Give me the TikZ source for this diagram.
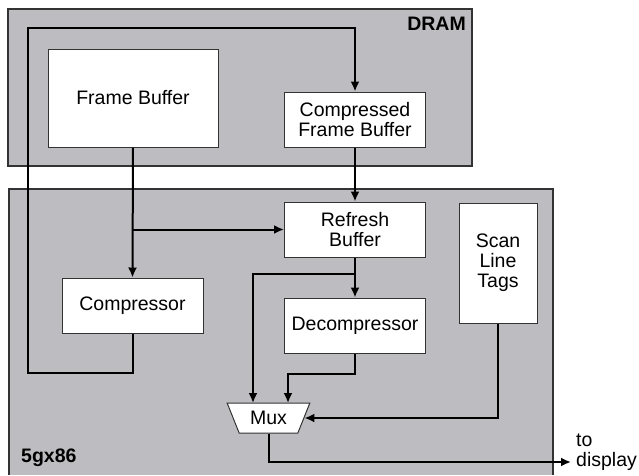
\documentclass[tikz,border=0pt]{standalone}
\usepackage{fontspec}
\setmainfont{Liberation Sans}
\usetikzlibrary{arrows.meta,shapes.geometric}
\definecolor{chipgray}{RGB}{189,189,193}

\begin{document}
\begin{tikzpicture}[x=1pt, y=-1pt,
  font=\fontsize{19.5}{20}\selectfont,
  region/.style={draw=black!80, line width=1.2pt, fill=chipgray},
  block/.style={draw=black!80, line width=1pt, fill=white, align=center, inner sep=0pt},
  tag/.style={font=\fontsize{19.5}{20}\selectfont\bfseries, inner sep=0pt},
  conn/.style={line width=2pt, -{Latex[length=10pt,width=9pt]}}]
  \useasboundingbox (0,0) rectangle (639,475);
  % memory and chip areas
  \draw[region] (8,9) rectangle (472,166);
  \fill[chipgray] (9,189) rectangle (553,475);
  \draw[draw=black!80, line width=1.2pt] (9,475) -- (9,189) -- (553,189) -- (553,475);
  \node[tag, anchor=north east] (dramlbl) at (466,17) {DRAM};
  \node[tag, anchor=base west] (chiplbl) at (21,462) {5gx86};

  \node[block, minimum width=170, minimum height=98] (fb) at (133,98) {Frame Buffer};
  \node[block, minimum width=141, minimum height=55] (cfb) at (355,119.5) {Compressed\\Frame Buffer};
  \node[block, minimum width=141, minimum height=55] (rb) at (355,229.5) {Refresh\\Buffer};
  \node[block, minimum width=141, minimum height=55] (comp) at (132.5,305.5) {Compressor};
  \node[block, minimum width=141, minimum height=55] (dec) at (355,325.5) {Decompressor};
  \node[block, minimum width=78, minimum height=120] (tags) at (498,263) {Scan\\Line\\Tags};
  \node[block, trapezium, shape border rotate=180, trapezium angle=61,
        trapezium stretches=true, minimum width=83, minimum height=30] (mux) at (268.5,418) {Mux};

  % data paths
  \coordinate (loopl) at (28,373);
  \coordinate (loopt) at (28,28);
  \coordinate (rbtap) at (355,274);
  \coordinate (muxl) at (253,403);
  \coordinate (muxr) at (288,403);
  \coordinate (out) at (571,462);
  \draw[conn] (fb.south) -- (comp.north);
  \draw[conn] (fb.south |- rb.west) -- (rb.west);
  \draw[conn] (comp.south) |- (loopl) -- (loopt) -| (cfb.north);
  \draw[conn] (cfb.south) -- (rb.north);
  \draw[conn] (rb.south) -- (dec.north);
  \draw[conn] (rbtap) -| (muxl);
  \draw[conn] (dec.south) -- ++(0,20) -| (muxr);
  \draw[conn] (tags.south) |- (mux.east);
  \draw[conn] (mux.south) |- (out);
  \node[anchor=west, align=left, inner sep=0pt] (disp) at (576,452) {to\\display};
\end{tikzpicture}
\end{document}
